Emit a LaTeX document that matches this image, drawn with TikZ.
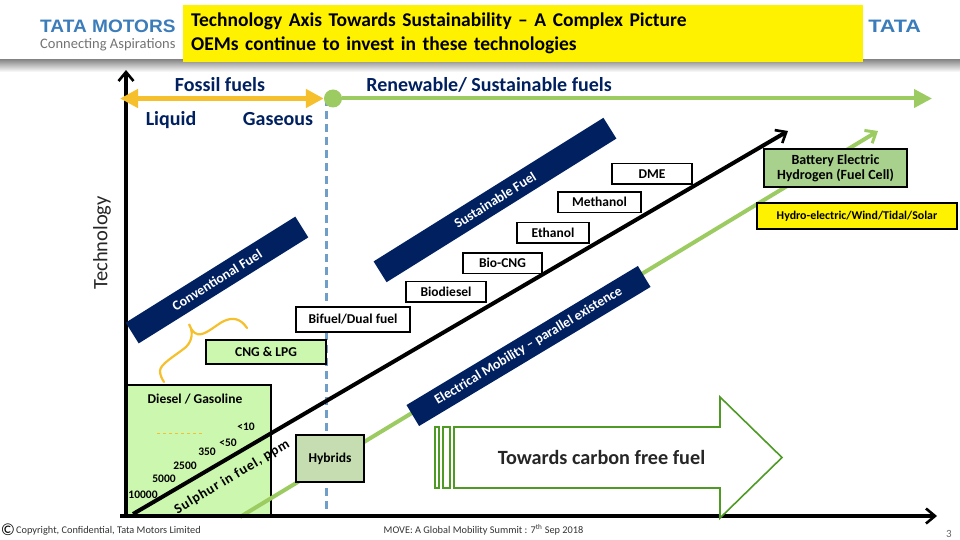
\documentclass[tikz,border=0pt]{standalone}
\usepackage{fontspec}
\setmainfont{Carlito}
\newfontfamily\logofont{Liberation Sans}
\usetikzlibrary{positioning,arrows.meta}
\definecolor{navyfont}{HTML}{002060}
\definecolor{sunyellow}{HTML}{F5C02C}
\definecolor{leafgreen}{HTML}{9CCB62}
\definecolor{dashblue}{HTML}{6F9FC8}
\definecolor{palegreen}{HTML}{CCF7AE}
\definecolor{hybridgreen}{HTML}{C5DDB0}
\definecolor{batterygreen}{HTML}{A9D18E}
\definecolor{arrowgreen}{HTML}{4E9A25}
\definecolor{tatablue}{HTML}{3B7CBA}
\newcommand{\fs}[1]{\fontsize{#1}{#1}\selectfont}
\begin{document}
\begin{tikzpicture}[
  x=1pt, y=-1pt,
  font=\fs{13.5}\bfseries,
  box/.style={draw, line width=1.6pt, fill=white, align=center, inner sep=0pt, outer sep=0pt},
  fuelbox/.style={box, minimum height=20.5pt},
  banner/.style={fill=navyfont, text=white, minimum height=24.5pt, inner sep=0pt, font=\fs{13.8}\bfseries},
  heading/.style={text=navyfont, font=\fs{20}\bfseries},
  level/.style={inner sep=0pt, font=\fs{11.5}\bfseries},
  axis/.style={black, line width=3.4pt, -{Straight Barb[length=9pt,width=15pt,line width=2.6pt]}},
  trend/.style={line width=4pt},
  foot/.style={inner sep=0pt, font=\fs{10.3}, text=black!80}]
  \useasboundingbox (0,0) rectangle (960,540);
  % header
  \shade[top color=black!45, bottom color=white] (0,60) rectangle (960,72);
  \node[anchor=west, inner sep=0pt, xscale=1.06, text=tatablue, font=\logofont\fontsize{18}{20}\bfseries\selectfont] (logo) at (40,26.5) {TATA MOTORS};
  \node[anchor=west, inner sep=0pt, text=black!55, font=\fs{14.5}\mdseries] (motto) at (40,45) {Connecting Aspirations};
  \node[anchor=west, inner sep=0pt, xscale=1.2, text=tatablue, font=\logofont\fontsize{18}{20}\bfseries\selectfont] (logoright) at (868,26.5) {TATA};
  \node[fill=yellow, anchor=north west, minimum width=680pt, minimum height=57pt, text width=664pt, inner xsep=8pt, inner ysep=0pt, align=left, font=\fontsize{19.5}{24}\selectfont\bfseries] (title) at (183,5) {Technology Axis Towards Sustainability – A Complex Picture\\OEMs continue to invest in these technologies};
  % diesel box sits under the trend lines
  \node[box, fill=palegreen, anchor=north west, minimum width=144pt, minimum height=131pt] (diesel) at (127,385) {};
  \node[inner sep=0pt] (dieseltext) at (195,399) {Diesel / Gasoline};
  \draw[sunyellow, line width=0.8pt, dashed] (157,433) -- (204,433);
  % axes and trend lines
  \coordinate (origin) at (126,516);
  \coordinate (ytip) at (126,70);
  \coordinate (xstart) at (120,516);
  \coordinate (xtip) at (937,516);
  \coordinate (blackstart) at (133,514);
  \coordinate (blacktip) at (788,131);
  \coordinate (greenstart) at (240,517);
  \coordinate (greentip) at (878,131);
  \draw[dashblue, line width=2.6pt, dash pattern=on 8pt off 5pt] (326.5,98) -- (326.5,516);
  \draw[trend, leafgreen, -{Straight Barb[length=9pt,width=15pt,line width=3pt]}] (greenstart) -- (greentip);
  \draw[axis] (origin) -- (ytip);
  \draw[axis] (xstart) -- (xtip);
  \draw[axis, line width=4pt] (blackstart) -- (blacktip);
  % fossil and renewable bar
  \coordinate (fossilstart) at (120,98.5);
  \coordinate (renewtip) at (932,98.5);
  \node[circle, fill=leafgreen, minimum size=18pt, inner sep=0pt] (junction) at (333,98.5) {};
  \draw[sunyellow, line width=4.5pt, {Triangle[length=18pt,width=18pt]}-{Triangle[length=18pt,width=18pt]}] (fossilstart) -- (junction.west);
  \draw[leafgreen, line width=4pt, -{Triangle[length=18pt,width=18pt]}] (junction) -- (renewtip);
  \node[heading] (fossil) at (220,85) {Fossil fuels};
  \node[heading] (renew) at (489,85) {Renewable/ Sustainable fuels};
  \node[heading] (liquid) at (171,120.5) {Liquid};
  \node[heading] (gas) at (278,119.5) {Gaseous};
  \node[rotate=90, font=\fs{20.5}\mdseries, text=black!85] (tech) at (102,243) {Technology};
  % banners
  \node[banner, rotate=32, minimum width=200pt] (conv) at (217,280) {Conventional Fuel};
  \node[banner, rotate=32, minimum width=271pt] (sust) at (495,200) {Sustainable Fuel};
  \node[banner, rotate=31, minimum width=270pt] (elec) at (528.5,346) {Electrical Mobility – parallel existence};
  % fuel boxes
  \node[box, fill=palegreen, anchor=north west, minimum width=120pt, minimum height=24pt] (cng) at (206,340) {CNG \& LPG};
  \node[box, anchor=north west, minimum width=114pt, minimum height=25pt] (bifuel) at (296,307) {Bifuel/Dual fuel};
  \node[fuelbox, minimum width=80pt, above right=5pt and -4pt of bifuel] (biodiesel) {Biodiesel};
  \node[fuelbox, minimum width=79pt, above right=8pt and -23pt of biodiesel] (biocng) {Bio-CNG};
  \node[fuelbox, minimum width=72pt, above right=10pt and -25pt of biocng] (ethanol) {Ethanol};
  \node[fuelbox, minimum width=83pt, above right=10pt and -31pt of ethanol] (methanol) {Methanol};
  \node[fuelbox, minimum width=80pt, above right=8pt and -29pt of methanol] (dme) {DME};
  \node[box, fill=hybridgreen, anchor=north west, minimum width=68pt, minimum height=47pt] (hybrids) at (296,435) {Hybrids};
  \node[box, fill=batterygreen, anchor=north west, minimum width=143pt, minimum height=38pt, font=\fs{14}\bfseries] (battery) at (764,149) {Battery Electric\\[1pt]Hydrogen (Fuel Cell)};
  \node[box, fill=yellow, anchor=north west, minimum width=200pt, minimum height=26pt, font=\fs{11.9}\bfseries] (hydro) at (757,203) {Hydro-electric/Wind/Tidal/Solar};
  % sulphur levels
  \node[level] (ppma) at (246,427) {<10};
  \node[level] (ppmb) at (228,443) {<50};
  \node[level] (ppmc) at (207,452) {350};
  \node[level] (ppmd) at (185,466) {2500};
  \node[level] (ppme) at (164,479) {5000};
  \node[level] (ppmf) at (143,495) {10000};
  \node[rotate=31, font=\fs{14}\bfseries\addfontfeatures{LetterSpace=6}, inner sep=0pt] (sulphur) at (232,477) {Sulphur in fuel, ppm};
  % brace
  \draw[sunyellow, line width=2.2pt, line cap=round]
    (247,328) .. controls (241,319) and (233,316) .. (222,322)
    .. controls (212,328) and (202,338) .. (195,333)
    .. controls (192,331) and (190,327) .. (189,324)
    .. controls (193,331) and (193,340) .. (186,347)
    .. controls (175,356) and (160,364) .. (160,371)
    .. controls (160,375) and (162,379) .. (164,382);
  % carbon free arrow
  \draw[arrowgreen, line width=1.6pt, fill=white] (454,427) -- (720,427) -- (720,397) -- (782,457.5) -- (720,518) -- (720,488) -- (454,488) -- cycle;
  \draw[arrowgreen, line width=1.6pt, fill=white] (435,427) rectangle (439,488);
  \draw[arrowgreen, line width=1.6pt, fill=white] (443,427) rectangle (450,488);
  \node[font=\fs{20.2}\bfseries, text=black!85] (carbontext) at (601.5,457.5) {Towards carbon free fuel};
  % footer
  \node[inner sep=0pt, font=\fs{17}\mdseries] (copyicon) at (8,530) {©};
  \node[anchor=west, foot] (copyright) at (16,531) {Copyright, Confidential, Tata Motors Limited};
  \node[foot] (event) at (483.5,530) {MOVE: A Global Mobility Summit : 7\textsuperscript{th} Sep 2018};
  \node[inner sep=0pt, font=\fs{11}\mdseries, text=black!60] (pageno) at (949,534) {3};
\end{tikzpicture}
\end{document}
